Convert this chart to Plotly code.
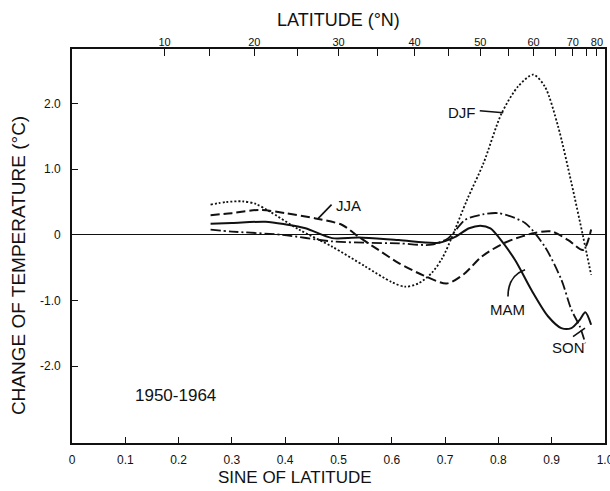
import math
import plotly.graph_objects as go

# ---------------- data (sine of latitude, change of temperature in degC) ----------------
djf_x = [0.260, 0.290, 0.320, 0.345, 0.370, 0.426, 0.488, 0.550, 0.600, 0.625, 0.650, 0.675,
         0.695, 0.712, 0.741, 0.772, 0.806, 0.837, 0.865, 0.887, 0.912, 0.937, 0.959, 0.974]
djf_y = [0.46, 0.50, 0.51, 0.47, 0.36, 0.08, -0.18, -0.48, -0.72, -0.79, -0.74, -0.58,
         -0.35, -0.05, 0.53, 1.09, 1.85, 2.26, 2.44, 2.26, 1.65, 0.79, -0.03, -0.61]

jja_x = [0.260, 0.300, 0.351, 0.400, 0.457, 0.507, 0.538, 0.575, 0.613, 0.660, 0.703, 0.735,
         0.769, 0.812, 0.868, 0.900, 0.931, 0.959, 0.974]
jja_y = [0.30, 0.33, 0.38, 0.33, 0.25, 0.15, -0.03, -0.23, -0.43, -0.62, -0.74, -0.60,
         -0.33, -0.12, 0.03, 0.05, -0.08, -0.23, 0.08]

mam_x = [0.260, 0.300, 0.363, 0.400, 0.438, 0.488, 0.538, 0.613, 0.688, 0.719, 0.745, 0.766,
         0.785, 0.800, 0.831, 0.862, 0.893, 0.918, 0.937, 0.953, 0.963, 0.974]
mam_y = [0.17, 0.18, 0.20, 0.16, 0.10, -0.05, -0.04, -0.08, -0.12, -0.03, 0.10, 0.14,
         0.10, -0.03, -0.38, -0.84, -1.24, -1.42, -1.42, -1.29, -1.18, -1.37]

son_x = [0.260, 0.300, 0.394, 0.488, 0.550, 0.613, 0.675, 0.706, 0.738, 0.770, 0.800, 0.850,
         0.887, 0.918, 0.937, 0.953, 0.963]
son_y = [0.08, 0.05, 0.00, -0.10, -0.12, -0.13, -0.15, -0.05, 0.23, 0.31, 0.33, 0.18,
         -0.18, -0.68, -1.14, -1.40, -1.65]

x_ticks = [0.0, 0.1, 0.2, 0.3, 0.4, 0.5, 0.6, 0.7, 0.8, 0.9, 1.0]
x_ticktext = ["0", "0.1", "0.2", "0.3", "0.4", "0.5", "0.6", "0.7", "0.8", "0.9", "1.0"]
y_ticks = [-2, -1, 0, 1, 2]
y_ticktext = ["-2.0", "-1.0", "0", "1.0", "2.0"]
lat_ticks = [10, 15, 20, 25, 30, 35, 40, 45, 50, 55, 60, 65, 70, 75, 80]
lat_labels = ["10", "", "20", "", "30", "", "40", "", "50", "", "60", "", "70", "", "80"]

FONT = "Liberation Sans"
BLACK = "#111111"

fig = go.Figure()

fig.add_trace(go.Scatter(x=djf_x, y=djf_y, mode="lines", name="DJF",
                         line=dict(color=BLACK, width=1.8, dash="2px,2px", shape="spline", smoothing=0.8)))
fig.add_trace(go.Scatter(x=jja_x, y=jja_y, mode="lines", name="JJA",
                         line=dict(color=BLACK, width=2, dash="9px,4px", shape="spline", smoothing=0.8)))
fig.add_trace(go.Scatter(x=mam_x, y=mam_y, mode="lines", name="MAM",
                         line=dict(color=BLACK, width=2, shape="spline", smoothing=0.8)))
fig.add_trace(go.Scatter(x=son_x, y=son_y, mode="lines", name="SON",
                         line=dict(color=BLACK, width=1.8, dash="10px,3px,2px,3px", shape="spline", smoothing=0.8)))

fig.update_layout(
    width=610, height=491,
    margin=dict(l=72, r=5, t=49, b=48, pad=0, autoexpand=False),
    paper_bgcolor="white", plot_bgcolor="white",
    showlegend=False,
    font=dict(family=FONT, color=BLACK, size=12),
    xaxis=dict(range=[0, 1], tickvals=x_ticks, ticktext=x_ticktext, ticks="inside", ticklen=6,
               tickwidth=1.2, tickcolor=BLACK, showline=True, linecolor=BLACK, linewidth=1.8,
               mirror=True, showgrid=False, zeroline=False, ticklabelstandoff=5,
               ticklabeloverflow="allow", automargin=False, tickfont=dict(size=12)),
    xaxis2=dict(range=[0, 1], overlaying="x", side="top", anchor="y",
                tickvals=[math.sin(math.radians(v)) for v in lat_ticks], ticktext=lat_labels,
                ticks="inside", ticklen=7, tickwidth=1.2, tickcolor=BLACK, showline=False,
                showgrid=False, zeroline=False, ticklabeloverflow="allow", automargin=False,
                tickfont=dict(size=11)),
    yaxis=dict(range=[-3.17, 2.83], tickvals=y_ticks, ticktext=y_ticktext, ticks="inside",
               ticklen=6, tickwidth=1.2, tickcolor=BLACK, showline=True, linecolor=BLACK,
               linewidth=1.8, mirror=True, showgrid=False, zeroline=True, zerolinecolor=BLACK,
               zerolinewidth=1, ticklabelstandoff=7, automargin=False, tickfont=dict(size=12)),
)

# invisible anchor trace so the top latitude axis is drawn
fig.add_trace(go.Scatter(x=[djf_x[0]], y=[djf_y[0]], xaxis="x2", mode="markers",
                         marker=dict(opacity=0), hoverinfo="skip", showlegend=False))

annotations = [
    dict(text="LATITUDE (°N)", xref="paper", yref="paper", x=0.5, y=1.0736, showarrow=False,
         font=dict(size=18), xanchor="center", yanchor="middle"),
    dict(text="SINE OF LATITUDE", xref="paper", yref="paper", x=0.418, y=-0.0888, showarrow=False,
         font=dict(size=17), xanchor="center", yanchor="middle"),
    dict(text="CHANGE OF TEMPERATURE (°C)", xref="paper", yref="paper", x=-0.1013, y=0.449,
         showarrow=False, textangle=-90, font=dict(size=19), xanchor="center", yanchor="middle"),
    dict(text="1950-1964", xref="x", yref="y", x=0.195, y=-2.44, showarrow=False,
         font=dict(size=17), xanchor="center", yanchor="middle"),
    dict(text="DJF", xref="x", yref="y", x=0.732, y=1.87, showarrow=False,
         font=dict(size=15), xanchor="center", yanchor="middle"),
    dict(text="JJA", xref="x", yref="y", x=0.518, y=0.44, showarrow=False,
         font=dict(size=15), xanchor="center", yanchor="middle"),
    dict(text="MAM", xref="x", yref="y", x=0.818, y=-1.14, showarrow=False,
         font=dict(size=15), xanchor="center", yanchor="middle"),
    dict(text="SON", xref="x", yref="y", x=0.931, y=-1.72, showarrow=False,
         font=dict(size=15), xanchor="center", yanchor="middle"),
]
fig.update_layout(annotations=annotations)

# leader lines from labels to curves
leader = dict(color=BLACK, width=1.6)
fig.add_shape(type="line", xref="x", yref="y", x0=0.765, y0=1.89, x1=0.809, y1=1.86, line=leader)
fig.add_shape(type="line", xref="x", yref="y", x0=0.487, y0=0.46, x1=0.462, y1=0.25, line=leader)
fig.add_shape(type="path", xref="x", yref="y", path="M 0.818,-0.94 Q 0.818,-0.62 0.85,-0.53", line=leader)
fig.add_shape(type="line", xref="x", yref="y", x0=0.94, y0=-1.55, x1=0.9625, y1=-1.42, line=leader)

fig.write_html("out.html", config={"displayModeBar": False},
               post_script="document.body.style.margin='0';document.body.style.overflow='hidden';")
